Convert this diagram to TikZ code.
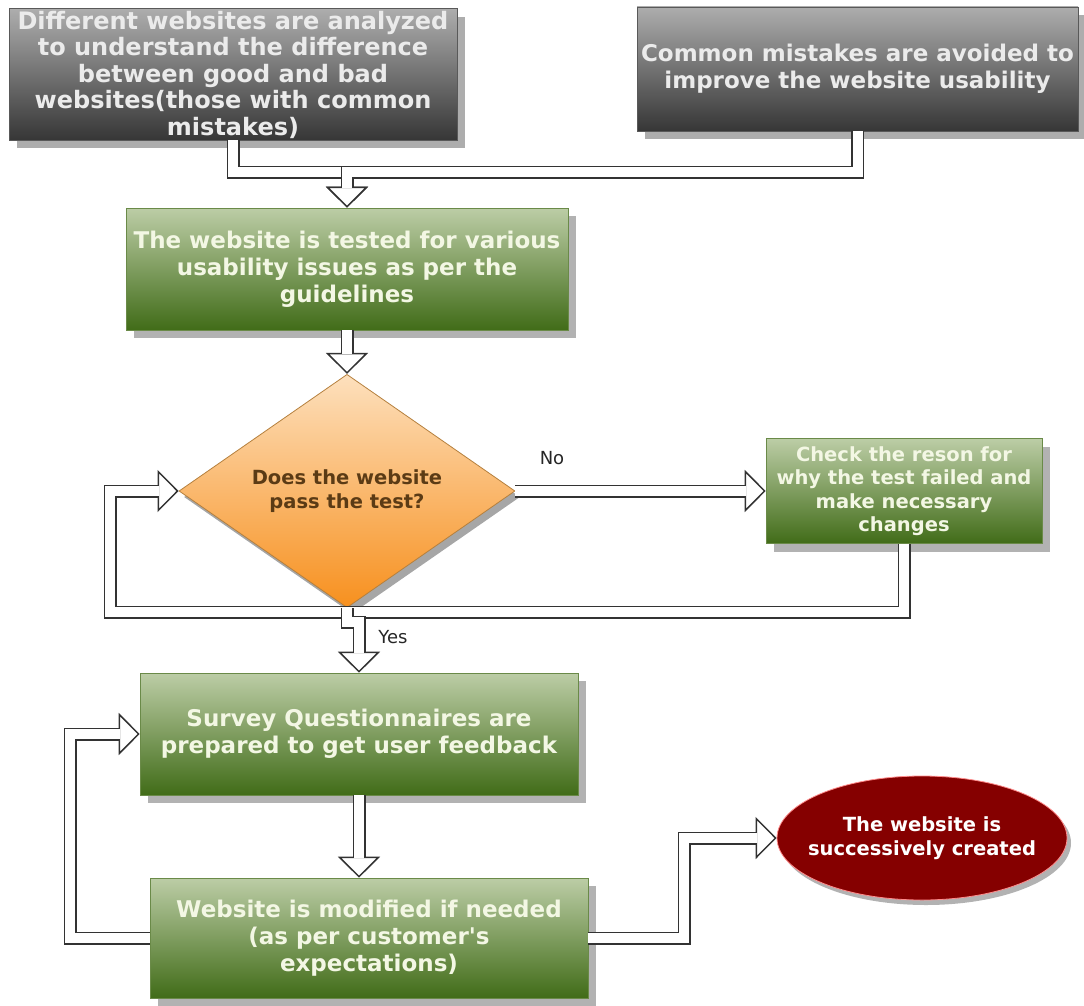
\documentclass[tikz,border=0pt]{standalone}
\usepackage{fontspec}
\setmainfont{DejaVu Sans}
\usetikzlibrary{arrows.meta,shapes.geometric,shadows}
\definecolor{graytop}{HTML}{ADADAD}
\definecolor{graybot}{HTML}{363636}
\definecolor{greentop}{HTML}{BCCDA6}
\definecolor{greenbot}{HTML}{416C18}
\definecolor{greenrim}{HTML}{6A8A48}
\definecolor{greentxt}{HTML}{F3F7E4}
\definecolor{peach}{HTML}{FDE0BD}
\definecolor{orange}{HTML}{F7901E}
\definecolor{orangerim}{HTML}{B5803E}
\definecolor{brown}{HTML}{5B3B15}
\definecolor{maroon}{HTML}{850000}
\definecolor{lineclr}{HTML}{333333}
\tikzset{hollow/.style={draw=lineclr, line width=1.5pt,
    -{Triangle[width=42pt,length=21pt,fill=white,line width=1.5pt]},
    postaction={draw=lineclr, line width=1.5pt, double=white, double distance=10pt, -, shorten >=20pt}},
  boxshadow/.style={drop shadow={shadow xshift=8pt, shadow yshift=-8pt, fill=#1, opacity=1}},
  graybox/.style={rectangle, draw=black!65, line width=0.6pt, top color=graytop, bottom color=graybot,
    text=white!92!black, align=center, inner sep=2pt, font=\bfseries\fontsize{23}{27}\selectfont, boxshadow=black!32},
  greenbox/.style={rectangle, draw=greenrim, line width=0.6pt, top color=greentop, bottom color=greenbot,
    text=greentxt, align=center, inner sep=2pt, font=\bfseries\fontsize{23}{27}\selectfont, boxshadow=black!30},
  decision/.style={diamond, draw=orangerim, line width=0.8pt, top color=peach, bottom color=orange,
    text=brown, align=center, inner sep=0pt, minimum width=336pt, minimum height=198pt,
    font=\bfseries\fontsize{19.5}{24}\selectfont,
    drop shadow={shadow xshift=5pt, shadow yshift=-6pt, fill=black!35, opacity=1}},
  endnode/.style={ellipse, draw=red!45!white, line width=0.8pt, fill=maroon, text=white, align=center,
    inner xsep=-12pt, inner ysep=0pt, minimum width=290pt, minimum height=124pt,
    font=\bfseries\fontsize{19.5}{24}\selectfont,
    drop shadow={shadow xshift=4pt, shadow yshift=-5pt, fill=black!30, opacity=1}},
  lbl/.style={text=black!85, font=\fontsize{18}{20}\selectfont}}

\begin{document}
\begin{tikzpicture}[x=1pt, y=-1pt]
  \useasboundingbox (0,0) rectangle (1084,1006);
  % sources
  \node[graybox, minimum width=448pt, minimum height=125pt, font=\bfseries\fontsize{24}{26.5}\selectfont] (diff) at (233,74.5)
    {Different websites are analyzed\\to understand the difference\\between good and bad\\websites(those with common\\mistakes)};
  \node[graybox, minimum width=441pt, minimum height=124pt] (avoid) at (857.5,69)
    {Common mistakes are avoided to\\improve the website usability};
  % test and decision
  \node[greenbox, minimum width=442pt, minimum height=122pt] (test) at (347,269)
    {The website is tested for various\\usability issues as per the\\guidelines};
  \node[decision] (pass) at (347,491) {Does the website\\pass the test?};
  \node[greenbox, minimum width=276pt, minimum height=105pt, font=\bfseries\fontsize{19.5}{23.5}\selectfont] (fix) at (904,491)
    {Check the reson for\\why the test failed and\\make necessary\\changes};
  % feedback
  \node[greenbox, minimum width=438pt, minimum height=122pt] (survey) at (359,734)
    {Survey Questionnaires are\\prepared to get user feedback};
  \node[greenbox, minimum width=438pt, minimum height=120pt] (modify) at (369,938)
    {Website is modified if needed\\(as per customer\textquotesingle s\\expectations)};
  \node[endnode] (done) at (922,838) {The website is\\successively created};
  \node[lbl] (nolbl) at (552,458) {No};
  \node[lbl] (yeslbl) at (393,637) {Yes};
  % connectors
  \coordinate (join) at (347,172);
  \draw[hollow] (diff.south) |- (join) -- (test.north);
  \draw[hollow] (avoid.south) |- (join) -- (test.north);
  \draw[hollow] (test.south) -- (pass.north);
  \draw[hollow] (pass.east) -- (fix.west);
  \coordinate (loopa) at (110,612);
  \draw[hollow] (fix.south) |- (loopa) |- (pass.west);
  \coordinate (yesjog) at (347,622);
  \draw[hollow] (pass.south) -- (yesjog) -| (survey.north);
  \draw[hollow] (survey.south) -- (survey.south |- modify.north);
  \coordinate (loopb) at (70,734);
  \draw[hollow] (modify.west) -| (loopb) -- (survey.west);
  \coordinate (bendc) at (684,838);
  \draw[hollow] (modify.east) -| (bendc) -- (done.west);
\end{tikzpicture}
\end{document}
